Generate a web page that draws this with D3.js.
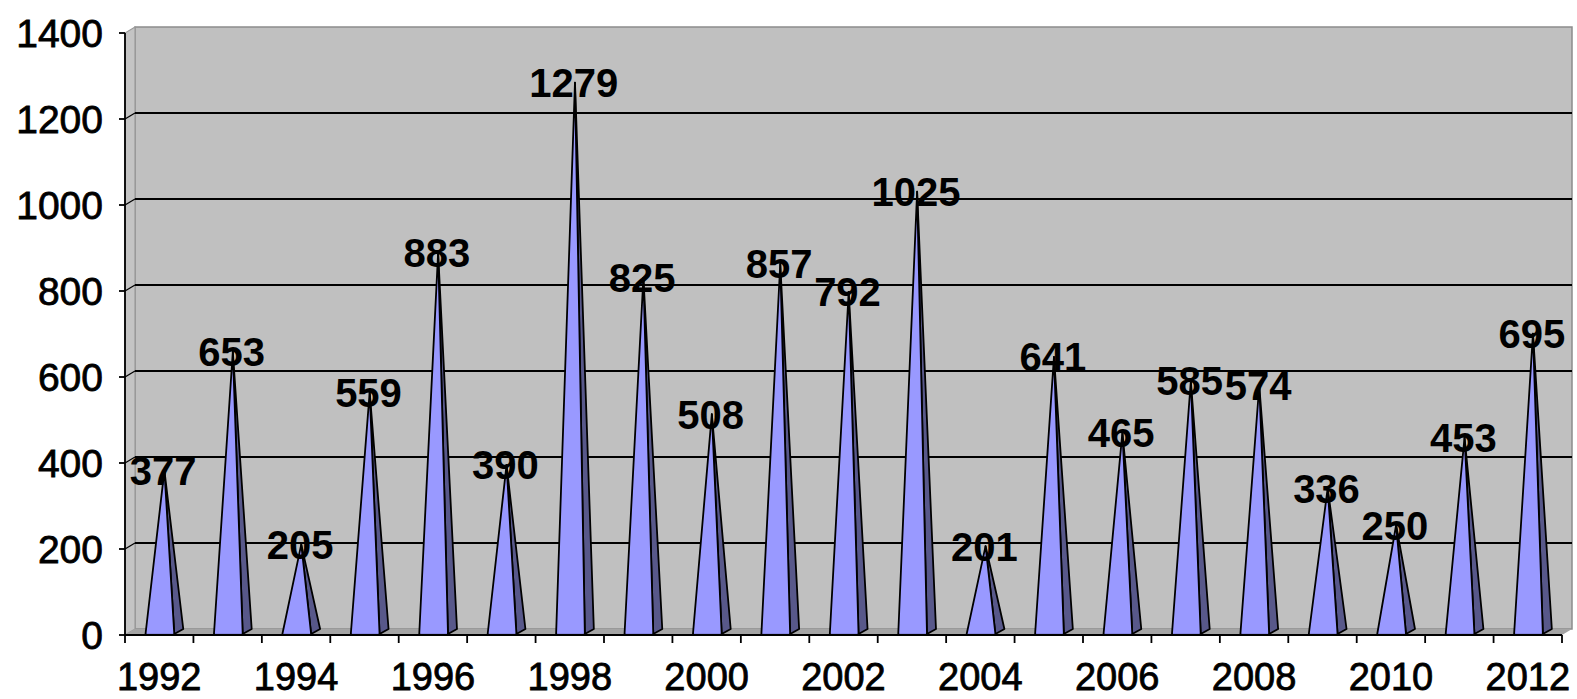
<!DOCTYPE html>
<html>
<head>
<meta charset="utf-8">
<script src="https://cdn.jsdelivr.net/npm/d3@7/dist/d3.min.js"></script>
<style>
html,body{margin:0;padding:0;background:#fff;}
svg{display:block;}
</style>
</head>
<body>
<svg id="chart" width="1577" height="699"></svg>
<script>
const years = ["1992","1993","1994","1995","1996","1997","1998","1999","2000","2001","2002","2003","2004","2005","2006","2007","2008","2009","2010","2011","2012"];
const values = [377,653,205,559,883,390,1279,825,508,857,792,1025,201,641,465,585,574,336,250,453,695];
const yTicks = [0,200,400,600,800,1000,1200,1400];
const xLabels = ["1992","1994","1996","1998","2000","2002","2004","2006","2008","2010","2012"];

const svg = d3.select("#chart");
const plotLeft = 125, plotRight = 1562, plotBottom = 635, plotTop = 33;
const dx = 10, dy = 6;          // wall depth offset
const pdx = 9, pdy = 5;         // pyramid depth offset

const x = d3.scaleBand().domain(years).range([plotLeft, plotRight]).padding(0);
const y = d3.scaleLinear().domain([0, 1400]).range([plotBottom, plotTop]);
const bw = x.bandwidth();

// Back wall
svg.append("rect")
  .attr("x", plotLeft + dx).attr("y", y(1400) - dy)
  .attr("width", plotRight - plotLeft).attr("height", y(0) - y(1400))
  .attr("fill", "#c0c0c0").attr("stroke", "#8c8c8c").attr("stroke-width", 1.5);

// Side wall
svg.append("path")
  .attr("d", `M${plotLeft},${y(0)} L${plotLeft+dx},${y(0)-dy} L${plotLeft+dx},${y(1400)-dy} L${plotLeft},${y(1400)} Z`)
  .attr("fill", "#c4c4c4").attr("stroke", "#9a9a9a").attr("stroke-width", 1.2);

// Floor
svg.append("path")
  .attr("d", `M${plotLeft},${y(0)} L${plotRight},${y(0)} L${plotRight+dx},${y(0)-dy} L${plotLeft+dx},${y(0)-dy} Z`)
  .attr("fill", "#a4a4a4").attr("stroke", "none");

// Gridlines on back wall and side wall
const grid = svg.append("g");
yTicks.filter(t => t > 0 && t < 1400).forEach(t => {
  grid.append("line")
    .attr("x1", plotLeft + dx).attr("x2", plotRight + dx)
    .attr("y1", y(t) - dy).attr("y2", y(t) - dy)
    .attr("stroke", "#000").attr("stroke-width", 1.8);
  grid.append("line")
    .attr("x1", plotLeft).attr("x2", plotLeft + dx)
    .attr("y1", y(t)).attr("y2", y(t) - dy)
    .attr("stroke", "#000").attr("stroke-width", 1.2);
});

// Pyramids
const pyr = svg.append("g");
years.forEach((yr, i) => {
  const v = values[i];
  const x0 = x(yr);
  const fl = x0 + bw * 0.30;
  const fr = x0 + bw * 0.72;
  const by = y(0) - 1;
  const ax = (fl + fr) / 2 + pdx / 2;
  const ay = y(v) - pdy / 2;
  pyr.append("path")
    .attr("d", `M${fr},${by} L${fr+pdx},${by-pdy} L${ax},${ay} Z`)
    .attr("fill", "#58588a").attr("stroke", "#000").attr("stroke-width", 1.8).attr("stroke-linejoin", "round");
  pyr.append("path")
    .attr("d", `M${fl},${by} L${fr},${by} L${ax},${ay} Z`)
    .attr("fill", "#9999ff").attr("stroke", "#000").attr("stroke-width", 1.8).attr("stroke-linejoin", "round");
  pyr.append("line")
    .attr("x1", fl + 1).attr("x2", fr - 1).attr("y1", by).attr("y2", by)
    .attr("stroke", "#9999ff").attr("stroke-width", 1.8);
});

// Axes
const axes = svg.append("g").attr("stroke", "#000");
axes.append("line").attr("x1", plotLeft).attr("x2", plotLeft).attr("y1", y(1400)).attr("y2", y(0)).attr("stroke-width", 1.8);
axes.append("line").attr("x1", plotLeft).attr("x2", plotRight).attr("y1", y(0)).attr("y2", y(0)).attr("stroke-width", 1.8);
yTicks.forEach(t => {
  axes.append("line").attr("x1", plotLeft - 6).attr("x2", plotLeft).attr("y1", y(t)).attr("y2", y(t)).attr("stroke-width", 1.8);
});
years.concat(["end"]).forEach((yr, i) => {
  const xx = i < years.length ? x(yr) : plotRight;
  axes.append("line").attr("x1", xx).attr("x2", xx).attr("y1", y(0)).attr("y2", y(0) + 8).attr("stroke-width", 1.8);
});

// Y labels
svg.append("g").selectAll("text").data(yTicks).join("text")
  .attr("x", 103).attr("y", d => y(d) + 14)
  .attr("text-anchor", "end")
  .attr("font-family", "Liberation Sans, Arial, sans-serif")
  .attr("font-size", 39).attr("fill", "#000")
  .attr("stroke", "#000").attr("stroke-width", 0.8)
  .text(d => d);

// X labels
svg.append("g").selectAll("text").data(xLabels).join("text")
  .attr("x", d => x(d) + bw / 2).attr("y", 690)
  .attr("text-anchor", "middle")
  .attr("font-family", "Liberation Sans, Arial, sans-serif")
  .attr("font-size", 38).attr("fill", "#000")
  .attr("stroke", "#000").attr("stroke-width", 0.8)
  .text(d => d);

// Value labels
svg.append("g").selectAll("text").data(years).join("text")
  .attr("x", d => x(d) + bw / 2 + 4)
  .attr("y", (d, i) => y(values[i]) + 12)
  .attr("text-anchor", "middle")
  .attr("font-family", "Liberation Sans, Arial, sans-serif")
  .attr("font-weight", "bold")
  .attr("font-size", 40).attr("fill", "#000")
  .text((d, i) => values[i]);
</script>
</body>
</html>
